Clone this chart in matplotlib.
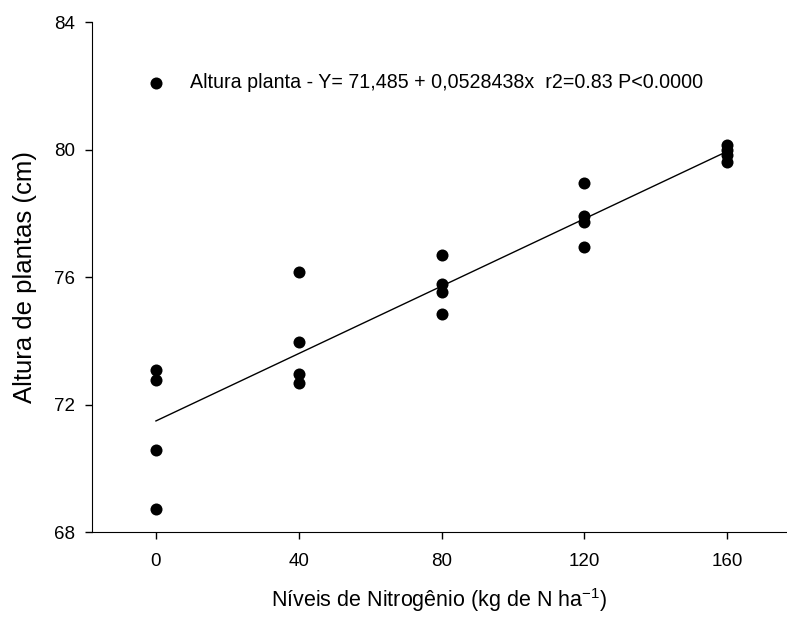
import matplotlib
matplotlib.use("Agg")
import matplotlib.pyplot as plt
import numpy as np

plt.rcParams['font.family'] = ['Liberation Sans', 'DejaVu Sans']

doses = [0, 0, 0, 0, 40, 40, 40, 40, 80, 80, 80, 80, 120, 120, 120, 120, 160, 160, 160, 160]
altura = [73.09, 72.77, 70.57, 68.72,
          76.15, 73.97, 72.97, 72.69,
          76.70, 75.79, 75.52, 74.84,
          78.94, 77.93, 77.72, 76.93,
          80.13, 79.97, 79.82, 79.61]
intercept = 71.485
slope = 0.0528438
line_x = [0, 160]
legend_label = "Altura planta - Y= 71,485 + 0,0528438x  r2=0.83 P<0.0000"
xticks = [0, 40, 80, 120, 160]
yticks = [68, 72, 76, 80, 84]

fig = plt.figure(figsize=(7.87, 6.24), dpi=100)
ax = fig.add_axes([0.1165, 0.1474, 0.8822, 0.8173])

ax.scatter(doses, altura, s=75, color='black', zorder=3, linewidths=0)
lx = np.array(line_x, dtype=float)
ax.plot(lx, intercept + slope * lx, color='black', lw=1.0)

# legend
ax.scatter([0], [82.1], s=75, color='black', linewidths=0)
ax.text(9.5, 82.1, legend_label, fontsize=14.1, va='center', ha='left')

ax.set_xlim(-18, 176.5)
ax.set_ylim(68, 84)
ax.set_xticks(xticks)
ax.set_yticks(yticks)
ax.spines['top'].set_visible(False)
ax.spines['right'].set_visible(False)
ax.tick_params(axis='both', direction='out', length=5, width=1, labelsize=13.5)
ax.tick_params(axis='x', pad=10)
ax.tick_params(axis='y', pad=7)

ax.set_xlabel(r"Níveis de Nitrogênio (kg de N ha$^{\mathregular{-1}}$)", fontsize=15.5, labelpad=12)
ax.set_ylabel("Altura de plantas (cm)", fontsize=18.5, labelpad=12)

fig.savefig("out.png", dpi=100)
